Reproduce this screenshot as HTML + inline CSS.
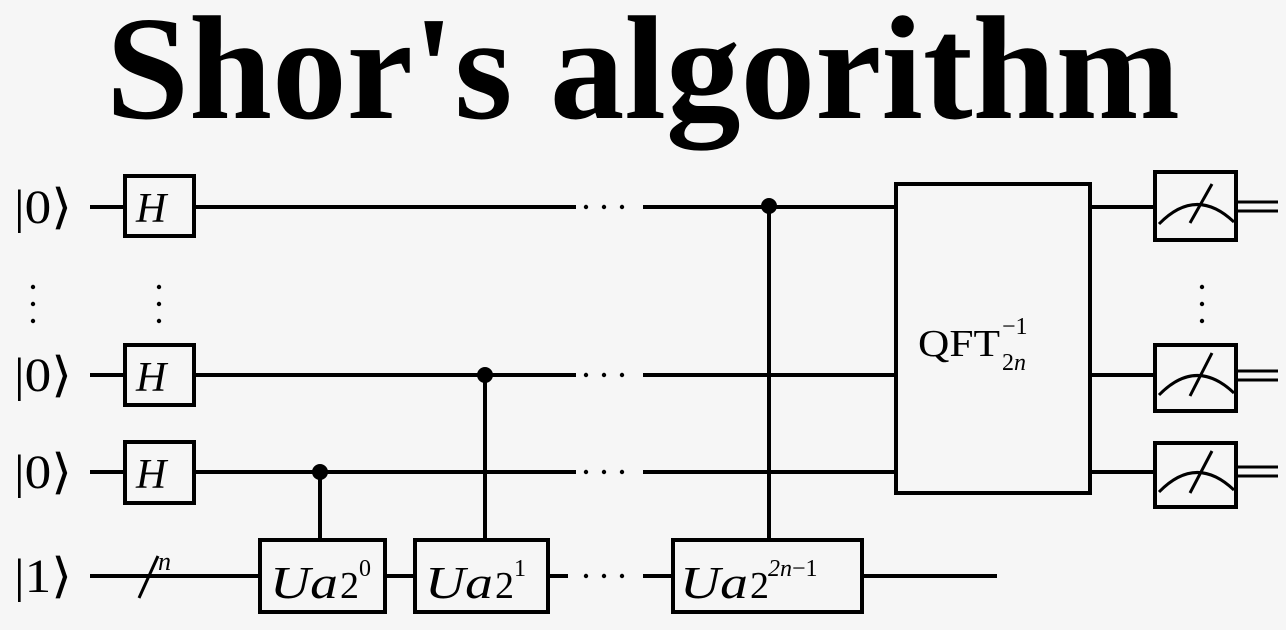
<!DOCTYPE html>
<html><head><meta charset="utf-8"><style>
html,body{margin:0;padding:0;background:#f6f6f6;}
svg{display:block}
</style></head><body>
<svg width="1286" height="630" viewBox="0 0 1286 630" xmlns="http://www.w3.org/2000/svg">
<rect width="1286" height="630" fill="#f6f6f6"/>
<text x="106" y="118" font-family="Liberation Serif, serif" font-weight="bold" font-size="148" textLength="1074" lengthAdjust="spacingAndGlyphs" fill="#000">Shor's algorithm</text>
<g stroke="#000" stroke-width="4" fill="none">
<line x1="90" y1="207" x2="125" y2="207"/><line x1="194" y1="207" x2="576" y2="207"/><line x1="643" y1="207" x2="896" y2="207"/>
<line x1="90" y1="375" x2="125" y2="375"/><line x1="194" y1="375" x2="576" y2="375"/><line x1="643" y1="375" x2="896" y2="375"/>
<line x1="90" y1="472" x2="125" y2="472"/><line x1="194" y1="472" x2="576" y2="472"/><line x1="643" y1="472" x2="896" y2="472"/>
<line x1="90" y1="576" x2="260" y2="576"/><line x1="385" y1="576" x2="415" y2="576"/><line x1="548" y1="576" x2="568" y2="576"/><line x1="643" y1="576" x2="673" y2="576"/><line x1="862" y1="576" x2="997" y2="576"/>
<line x1="1090" y1="207" x2="1155" y2="207"/><line x1="1090" y1="375" x2="1155" y2="375"/><line x1="1090" y1="472" x2="1155" y2="472"/>
<line x1="139" y1="598" x2="158" y2="556" stroke-width="3"/>
<rect x="125" y="176" width="69" height="60"/><rect x="125" y="345" width="69" height="60"/><rect x="125" y="442" width="69" height="61"/>
<rect x="260" y="540" width="125" height="72"/><rect x="415" y="540" width="133" height="72"/><rect x="673" y="540" width="189" height="72"/>
<line x1="320" y1="472" x2="320" y2="540"/><line x1="485" y1="375" x2="485" y2="540"/><line x1="769" y1="207" x2="769" y2="540"/>
<rect x="896" y="184" width="194" height="309"/>
<rect x="1155" y="172" width="81" height="68"/><rect x="1155" y="345" width="81" height="66"/><rect x="1155" y="443" width="81" height="64"/>
<path d="M1159 224 Q1196 186 1234 222" stroke-width="3"/><line x1="1190" y1="223" x2="1212" y2="184" stroke-width="3"/>
<path d="M1159 395 Q1196 357 1234 393" stroke-width="3"/><line x1="1190" y1="396" x2="1212" y2="353" stroke-width="3"/>
<path d="M1159 492 Q1196 454 1234 490" stroke-width="3"/><line x1="1190" y1="493" x2="1212" y2="451" stroke-width="3"/>
<g stroke-width="3">
<line x1="1236" y1="202" x2="1278" y2="202"/><line x1="1236" y1="211" x2="1278" y2="211"/>
<line x1="1236" y1="371" x2="1278" y2="371"/><line x1="1236" y1="380" x2="1278" y2="380"/>
<line x1="1236" y1="467" x2="1278" y2="467"/><line x1="1236" y1="476" x2="1278" y2="476"/>
</g>
</g>
<g fill="#000">
<circle cx="320" cy="472" r="8"/><circle cx="485" cy="375" r="8"/><circle cx="769" cy="206" r="8"/>
<circle cx="586" cy="207" r="2.2"/><circle cx="604" cy="207" r="2.2"/><circle cx="622" cy="207" r="2.2"/>
<circle cx="586" cy="375" r="2.2"/><circle cx="604" cy="375" r="2.2"/><circle cx="622" cy="375" r="2.2"/>
<circle cx="586" cy="472" r="2.2"/><circle cx="604" cy="472" r="2.2"/><circle cx="622" cy="472" r="2.2"/>
<circle cx="586" cy="576" r="2.2"/><circle cx="604" cy="576" r="2.2"/><circle cx="622" cy="576" r="2.2"/>
<circle cx="33" cy="287" r="2.2"/><circle cx="33" cy="304" r="2.2"/><circle cx="33" cy="321" r="2.2"/>
<circle cx="159" cy="287" r="2.2"/><circle cx="159" cy="304" r="2.2"/><circle cx="159" cy="321" r="2.2"/>
<circle cx="1202" cy="287" r="2.2"/><circle cx="1202" cy="304" r="2.2"/><circle cx="1202" cy="321" r="2.2"/>
</g>
<g font-family="Liberation Serif, serif" fill="#000">
<g font-size="48"><text x="14" y="223" textLength="58" lengthAdjust="spacingAndGlyphs">|0⟩</text><text x="14" y="391" textLength="58" lengthAdjust="spacingAndGlyphs">|0⟩</text><text x="14" y="488" textLength="58" lengthAdjust="spacingAndGlyphs">|0⟩</text><text x="14" y="592" textLength="58" lengthAdjust="spacingAndGlyphs">|1⟩</text></g>
<g font-size="42" font-style="italic"><text x="136" y="222">H</text><text x="136" y="391">H</text><text x="136" y="488">H</text></g>
<text x="158" y="570" font-size="26" font-style="italic">n</text>
<text x="270" y="598" font-size="46" font-style="italic" textLength="68" lengthAdjust="spacingAndGlyphs">Ua</text><text x="340" y="598" font-size="38">2</text><text x="359" y="576" font-size="24">0</text>
<text x="425" y="598" font-size="46" font-style="italic" textLength="68" lengthAdjust="spacingAndGlyphs">Ua</text><text x="495" y="598" font-size="38">2</text><text x="514" y="576" font-size="24">1</text>
<text x="680" y="598" font-size="46" font-style="italic" textLength="68" lengthAdjust="spacingAndGlyphs">Ua</text><text x="750" y="598" font-size="38">2</text><text x="768" y="576" font-size="24"><tspan font-style="italic">2n</tspan>−1</text>
<text x="918" y="356" font-size="38" textLength="82" lengthAdjust="spacingAndGlyphs">QFT</text><text x="1002" y="334" font-size="24">−1</text><text x="1002" y="370" font-size="24">2<tspan font-style="italic">n</tspan></text>
</g>
</svg>
</body></html>
